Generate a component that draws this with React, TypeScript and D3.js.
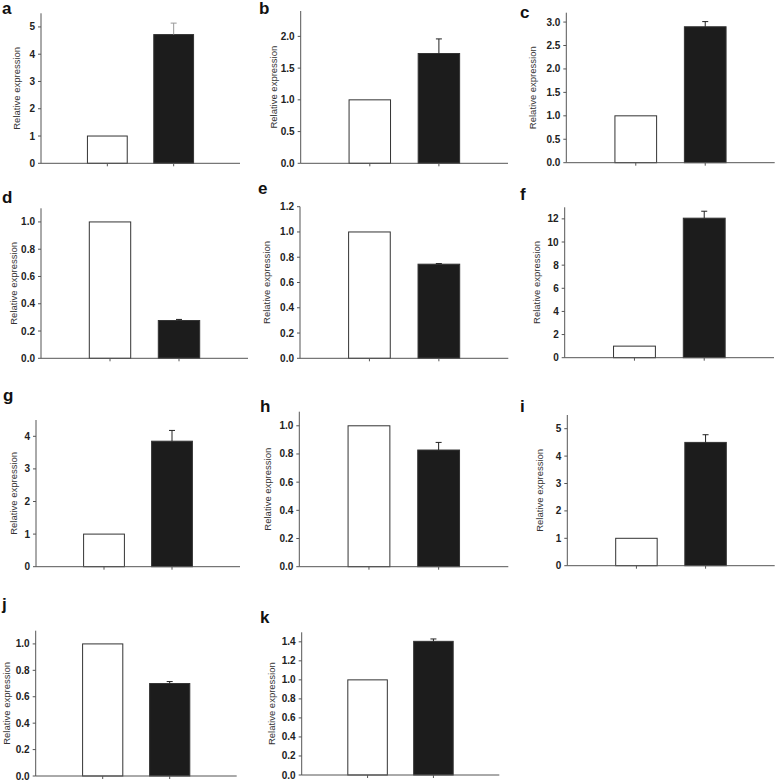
import React from "react";
import * as d3 from "d3";

// ---- Data ----
const panelIds = ["a", "b", "c", "d", "e", "f", "g", "h", "i", "j", "k"];
const groups = ["control", "treated"];
const controlValues = [1, 1, 1, 1, 1, 1, 1, 1, 1, 1, 1];
const treatedValues = [4.72, 1.73, 2.9, 0.277, 0.745, 12.06, 3.85, 0.828, 4.5, 0.7, 1.405];
const treatedErrors = [0.42, 0.23, 0.11, 0.008, 0.005, 0.6, 0.33, 0.054, 0.28, 0.015, 0.025];
const axisMax = [5.5, 2.4, 3.2, 1.1, 1.2, 13, 4.5, 1.1, 5.5, 1.1, 1.5];
const tickMax = [5, 2.0, 3.0, 1.0, 1.2, 12, 4, 1.0, 5, 1.0, 1.4];
const tickStep = [1, 0.5, 0.5, 0.2, 0.2, 2, 1, 0.2, 1, 0.2, 0.2];
const tickDecimals = [0, 1, 1, 1, 1, 0, 0, 1, 0, 1, 1];
const yLabel = "Relative expression";

// ---- Layout (pixel frames of each panel: left axis x, top, right, baseline, letter pos, y-label offset) ----
const frames = [
  { l: 41, t: 13.3, r: 240, b: 163.3, lx: 2, ly: 14, yo: 24 },
  { l: 300.7, t: 11, r: 508, b: 163.3, lx: 259, ly: 14, yo: 27 },
  { l: 566.3, t: 12.7, r: 774.7, b: 162.7, lx: 520, ly: 18, yo: 34 },
  { l: 41, t: 208.3, r: 248, b: 358.3, lx: 2, ly: 203, yo: 27 },
  { l: 300, t: 206.7, r: 508.3, b: 358.3, lx: 258, ly: 194, yo: 33 },
  { l: 564.7, t: 207.3, r: 774, b: 357.7, lx: 520, ly: 200, yo: 28 },
  { l: 36, t: 420, r: 240, b: 566.7, lx: 3, ly: 401, yo: 22 },
  { l: 299.3, t: 411.7, r: 508.3, b: 566.7, lx: 260, ly: 412, yo: 32 },
  { l: 567.3, t: 415, r: 774.7, b: 565.7, lx: 520, ly: 412, yo: 28 },
  { l: 35.7, t: 630.7, r: 236.7, b: 776, lx: 2, ly: 610, yo: 29 },
  { l: 301.7, t: 632.3, r: 499.3, b: 775, lx: 260, ly: 623, yo: 30 },
];

const FONT = "'Liberation Sans', Arial, Helvetica, sans-serif";
const AXIS = "#555";
const BAR_STROKE = "#333";
const BLACK = "#1c1c1c";

function Panel({ idx }: { idx: number }) {
  const f = frames[idx];
  const x = d3
    .scaleBand<string>()
    .domain(groups)
    .range([f.l, f.r])
    .paddingInner(0.4)
    .paddingOuter(0.7);
  const y = d3.scaleLinear().domain([0, axisMax[idx]]).range([f.b, f.t]);
  const ticks = d3.range(0, tickMax[idx] + tickStep[idx] / 2, tickStep[idx]);
  const fmt = d3.format(`.${tickDecimals[idx]}f`);
  const vals = [controlValues[idx], treatedValues[idx]];
  const err = treatedErrors[idx];
  const bw = x.bandwidth();
  const tx = x("treated")! + bw / 2;
  const errColor = idx === 0 ? "#999" : "#222";
  const labelX = f.l - f.yo;
  return (
    <g>
      <text x={f.lx} y={f.ly} fontFamily={FONT} fontWeight="bold" fontSize={17} fill="#111">
        {panelIds[idx]}
      </text>
      {groups.map((g, i) => (
        <rect
          key={g}
          x={x(g)}
          y={y(vals[i])}
          width={bw}
          height={y(0) - y(vals[i])}
          fill={i === 0 ? "#fff" : BLACK}
          stroke={BAR_STROKE}
          strokeWidth={1}
        />
      ))}
      <line x1={tx} x2={tx} y1={y(treatedValues[idx])} y2={y(treatedValues[idx] + err)} stroke={errColor} strokeWidth={1} />
      <line x1={tx - 3} x2={tx + 3} y1={y(treatedValues[idx] + err)} y2={y(treatedValues[idx] + err)} stroke={errColor} strokeWidth={1} />
      <line x1={f.l} x2={f.l} y1={f.t} y2={f.b} stroke={AXIS} strokeWidth={1} />
      {ticks.map((t) => (
        <g key={t}>
          <line x1={f.l - 3} x2={f.l} y1={y(t)} y2={y(t)} stroke={AXIS} strokeWidth={1} />
          <text
            x={f.l - 6}
            y={y(t)}
            dy="0.35em"
            textAnchor="end"
            fontFamily={FONT}
            fontWeight="bold"
            fontSize={10}
            fill="#222"
          >
            {fmt(t)}
          </text>
        </g>
      ))}
      <line x1={f.l} x2={f.r} y1={f.b} y2={f.b} stroke={AXIS} strokeWidth={1} />
      {groups.map((g) => (
        <line key={g} x1={x(g)! + bw / 2} x2={x(g)! + bw / 2} y1={f.b} y2={f.b + 3} stroke={AXIS} strokeWidth={1} />
      ))}
      <text
        transform={`translate(${labelX},${(f.t + f.b) / 2}) rotate(-90)`}
        textAnchor="middle"
        dy="0.35em"
        fontFamily={FONT}
        fontSize={9.5}
        fill="#333"
      >
        {yLabel}
      </text>
    </g>
  );
}

export default function App() {
  return (
    <svg
      width={778}
      height={781}
      style={{ position: "absolute", left: 0, top: 0, background: "#fff" }}
    >
      <rect width={778} height={781} fill="#fff" />
      {panelIds.map((_, i) => (
        <Panel key={i} idx={i} />
      ))}
    </svg>
  );
}
